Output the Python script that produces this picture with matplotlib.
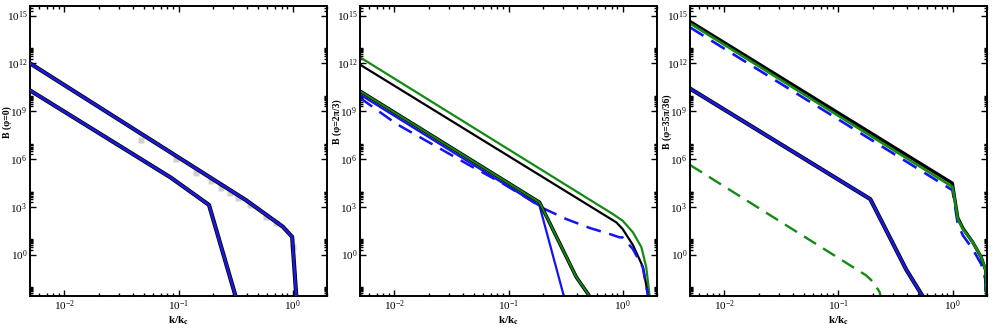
import numpy as np
import matplotlib
matplotlib.use("Agg")
import matplotlib.pyplot as plt
from matplotlib.ticker import FixedLocator, LogLocator, NullFormatter, LogFormatterMathtext

plt.rcParams['font.family'] = ['Liberation Serif', 'DejaVu Serif']
plt.rcParams['mathtext.fontset'] = 'stix'

# ---- panel 1 : phi = 0 ----
p1_upper_k = [0.005, 0.39, 0.82, 0.99, 1.086]
p1_upper_B = [1.0e12, 2.6e3, 56, 13, 1e-3]
p1_lower_k = [0.005, 0.085, 0.185, 0.328]
p1_lower_B = [2.0e10, 7.0e4, 1.3e3, 1e-3]
p1_gray_k = [0.047, 0.0955, 0.143, 0.194, 0.237, 0.28, 0.331, 0.42, 0.589, 0.72, 1.0]
p1_gray_B = [1.5e7, 9.5e5, 1.4e5, 4.3e4, 1.6e4, 6.8e3, 3.8e3, 1.3e3, 240, 90, 2.9]

# ---- panel 2 : phi = 2pi/3 ----
p2_green_up_k = [0.005, 0.82, 1.0, 1.23, 1.46, 1.61, 1.75]
p2_green_up_B = [2.4e12, 350, 133, 25, 2.9, 0.16, 1e-3]
p2_black_up_k = [0.005, 0.88, 1.0, 1.23, 1.51, 1.71]
p2_black_up_B = [8.3e11, 105, 40, 4.0, 0.16, 1e-3]
p2_green_lo_k = [0.005, 0.187, 0.393, 0.56]
p2_green_lo_B = [1.8e10, 1.9e3, 0.038, 1e-3]
p2_blue_lo_k = [0.005, 0.187, 0.316]
p2_blue_lo_B = [1.1e10, 1.15e3, 1e-3]
p2_blue_dash_k = [0.005, 0.0104, 0.0455, 0.089, 0.153, 0.194, 0.32, 0.514, 0.77, 0.94, 1.0, 1.23, 1.5, 1.71]
p2_blue_dash_B = [6.8e9, 1.6e8, 4.0e5, 2.9e4, 2.8e3, 9.1e2, 170, 47, 19.5, 12, 12, 2.2, 0.16, 1e-3]

# ---- panel 3 : phi = 35pi/36 ----
p3_black_up_k = [0.005, 0.995, 1.035, 1.11, 1.23, 1.5, 1.78, 1.95, 2.0]
p3_black_up_B = [4.2e14, 3.0e4, 4.5e3, 200, 45, 6.0, 0.68, 0.1, 1e-3]
p3_green_up_k = [0.005, 0.995, 1.035, 1.11, 1.23, 1.5, 1.78, 1.95, 2.0]
p3_green_up_B = [3.2e14, 1.8e4, 3.8e3, 170, 40, 5.9, 0.68, 0.1, 1e-3]
p3_blue_dash_k = [0.005, 0.995, 1.035, 1.11, 1.23, 1.5, 1.78, 1.93, 1.97]
p3_blue_dash_B = [1.8e14, 1.1e4, 2.0e3, 80, 16, 2.2, 0.25, 0.03, 1e-3]
p3_lower_k = [0.005, 0.19, 0.393, 0.59]
p3_lower_B = [2.6e10, 3.0e3, 0.11, 1e-3]
p3_green_dash_k = [0.005, 0.175, 0.2, 0.229, 0.24]
p3_green_dash_B = [4.2e5, 0.049, 0.02, 4.5e-3, 1e-3]

ylabels = ['B (φ=0)', 'B (φ=2π/3)', 'B (φ=35π/36)']
blue = '#1414f0'
green = '#138a13'

fig = plt.figure(figsize=(10, 3.3), dpi=100)
lefts = [0.030, 0.360, 0.690]
axes = [fig.add_axes([l, 0.103, 0.297, 0.879]) for l in lefts]

ax = axes[0]
ax.plot(p1_gray_k, p1_gray_B, 's', color='#d0d0d0', ms=4, mec='none', zorder=1)
for k, B in [(p1_upper_k, p1_upper_B), (p1_lower_k, p1_lower_B)]:
    ax.plot(k, B, color='black', lw=3.0, zorder=2)
    ax.plot(k, B, color='#1a1ad8', lw=1.9, zorder=3)

ax = axes[1]
ax.plot(p2_green_up_k, p2_green_up_B, color=green, lw=1.6)
ax.plot(p2_black_up_k, p2_black_up_B, color='black', lw=1.6)
ax.plot(p2_blue_dash_k, p2_blue_dash_B, color=blue, lw=1.8, dashes=(6, 3.5))
ax.plot(p2_blue_lo_k, p2_blue_lo_B, color=blue, lw=1.6)
ax.plot(p2_green_lo_k, p2_green_lo_B, color='black', lw=2.6)
ax.plot(p2_green_lo_k, p2_green_lo_B, color=green, lw=1.4)

ax = axes[2]
ax.plot(p3_green_dash_k, p3_green_dash_B, color=green, lw=1.7, dashes=(6, 3.5))
ax.plot(p3_lower_k, p3_lower_B, color='black', lw=3.0)
ax.plot(p3_lower_k, p3_lower_B, color='#1a1ad8', lw=1.9)
ax.plot(p3_blue_dash_k, p3_blue_dash_B, color=blue, lw=1.9, dashes=(6, 3.5))
ax.plot(p3_black_up_k, p3_black_up_B, color='black', lw=2.4)
ax.plot(p3_green_up_k, p3_green_up_B, color=green, lw=1.9)

ymajor = [10.0 ** e for e in range(0, 16, 3)]
yminor = [m * 10.0 ** e for e in range(-3, 16, 3) for m in range(2, 10)]

for ax, lab in zip(axes, ylabels):
    ax.set_xscale('log')
    ax.set_yscale('log')
    ax.set_xlim(0.005, 2.0)
    ax.set_ylim(10 ** -2.6, 10 ** 15.6)
    ax.yaxis.set_major_locator(FixedLocator(ymajor))
    ax.yaxis.set_minor_locator(FixedLocator(yminor))
    ax.yaxis.set_major_formatter(LogFormatterMathtext())
    ax.yaxis.set_minor_formatter(NullFormatter())
    ax.xaxis.set_major_locator(LogLocator(base=10))
    ax.xaxis.set_minor_locator(LogLocator(base=10, subs=np.arange(2, 10)))
    ax.xaxis.set_minor_formatter(NullFormatter())
    ax.tick_params(which='both', direction='in', top=True, right=True,
                   labelsize=8, pad=2, width=1.0)
    ax.tick_params(which='major', length=4.5)
    ax.tick_params(which='minor', length=2.2)
    for s in ax.spines.values():
        s.set_linewidth(1.4)
    ax.set_xlabel('k/k$_\\mathbf{c}$', fontsize=8, fontweight='bold', labelpad=1)
    ax.set_ylabel(lab, fontsize=7, fontweight='bold')
    ax.yaxis.set_label_coords(-0.06, 0.6)

plt.savefig('out.png', dpi=100)
